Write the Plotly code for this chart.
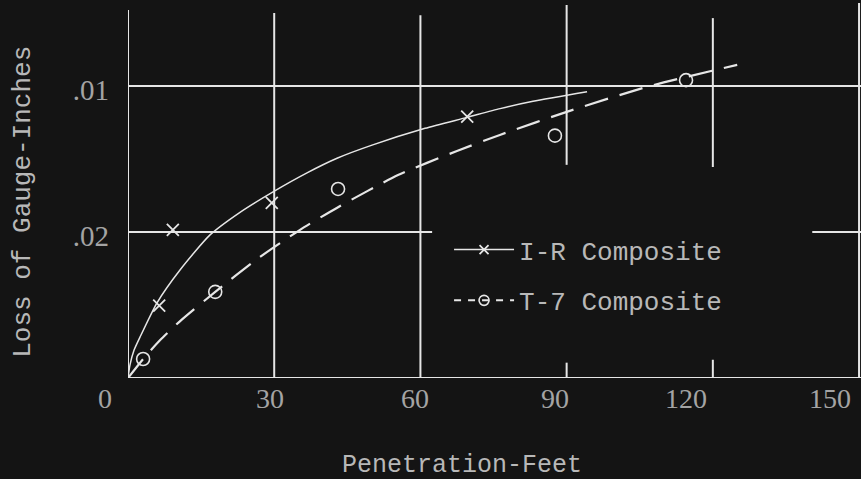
import plotly.graph_objects as go

# ---- data ----
# I-R Composite: observed points and drawn smooth curve
ir_pts_x = [6.4, 9.2, 29.5, 69.6]
ir_pts_y = [0.0099, 0.0203, 0.0240, 0.0358]
ir_curve_x = [0, 0.41, 1.23, 2.46, 5.95, 10.67, 16.83, 22.98, 29.76, 36.73, 42.89, 50.07, 60.95,
              69.57, 76.34, 83.11, 94.19]
ir_curve_y = [0, 0.0018, 0.0038, 0.0056, 0.0103, 0.0148, 0.0196, 0.0227, 0.0255, 0.0281, 0.0301,
              0.0319, 0.0342, 0.0357, 0.0369, 0.0379, 0.0392]

# T-7 Composite: observed points and drawn dashed curve
t7_pts_x = [3.1, 17.9, 43.1, 87.6, 114.5]
t7_pts_y = [0.0026, 0.0118, 0.0259, 0.0332, 0.0408]
t7_curve_x = [0, 3.1, 6.6, 10.7, 17.9, 26.5, 35.3, 43.1, 55.4, 67.5, 76.3, 91.1, 107.1, 125.0]
t7_curve_y = [0, 0.0026, 0.0052, 0.0078, 0.0118, 0.0163, 0.0203, 0.0234, 0.0278, 0.0311, 0.0333,
              0.0367, 0.0400, 0.0429]

x_ticks = [0, 30, 60, 90, 120, 150]
x_tick_text = ["0", "30", "60", "90", "120", "150"]
y_ticks = [0.02, 0.04]
y_tick_text = [".02", ".01"]

# hand-lettered label offsets (pixels) relative to the tick position
x_label_dx = [-23, -4, -5, -12, -27, -29]

BG = "#141414"
LINE = "#e6e6e6"
TXT = "#b8b8b8"
TICK = "#a4a4a4"
MONO = "Liberation Mono"
SERIF = "Liberation Serif"

fig = go.Figure()

# curves
fig.add_trace(go.Scatter(x=ir_curve_x, y=ir_curve_y, mode="lines",
                         line=dict(color=LINE, width=1.5, shape="spline", smoothing=0.6),
                         showlegend=False, hoverinfo="skip"))
fig.add_trace(go.Scatter(x=t7_curve_x, y=t7_curve_y, mode="lines",
                         line=dict(color=LINE, width=2.2, dash="24px,12px", shape="spline", smoothing=0.6),
                         showlegend=False, hoverinfo="skip"))
# points
fig.add_trace(go.Scatter(x=ir_pts_x, y=ir_pts_y, mode="markers",
                         marker=dict(symbol="x-thin-open", size=12, color=LINE, line=dict(color=LINE, width=1.8)),
                         showlegend=False))
fig.add_trace(go.Scatter(x=t7_pts_x, y=t7_pts_y, mode="markers",
                         marker=dict(symbol="circle-open", size=13, color=LINE, line=dict(color=LINE, width=1.6)),
                         showlegend=False))
# legend entries
fig.add_trace(go.Scatter(x=[None], y=[None], mode="lines+markers", name="I-R Composite", legendgroup="a",
                         line=dict(color=LINE, width=1.5),
                         marker=dict(symbol="x-thin-open", size=9, color=LINE, line=dict(color=LINE, width=1.8))))
fig.add_trace(go.Scatter(x=[None], y=[None], mode="lines+markers", name="T-7 Composite", legendgroup="b",
                         line=dict(color=LINE, width=2, dash="7px,7px"),
                         marker=dict(symbol="circle-open", size=10, color=LINE, line=dict(color=LINE, width=1.6))))

XMAX = 150.4
YMAX = 0.05137

# frame / grid segments
segs = [
    (0, 0, 0, 0.0504),            # left axis
    (0, 0, XMAX, 0),              # bottom axis
    (30, 0, 30, 0.0500),
    (60, 0, 60, 0.0497),
    (90, 0.0292, 90, 0.0511),
    (90, 0, 90, 0.0021),
    (120, 0.0289, 120, 0.0493),
    (120, 0, 120, 0.0025),
    (150, 0, 150, YMAX),
    (0, 0.04, XMAX, 0.04),
    (0, 0.02, 62.4, 0.02),
    (140.4, 0.02, XMAX, 0.02),
]
for x0, y0, x1, y1 in segs:
    fig.add_shape(type="line", x0=x0, y0=y0, x1=x1, y1=y1, xref="x", yref="y",
                  line=dict(color=LINE, width=2), layer="below")

fig.update_layout(
    width=861, height=479,
    paper_bgcolor=BG, plot_bgcolor=BG,
    margin=dict(l=128, r=0, t=3, b=101),
    font=dict(family=MONO, color=TXT),
    xaxis=dict(range=[0, XMAX], showgrid=False, zeroline=False, showline=False,
               showticklabels=False, ticks=""),
    yaxis=dict(range=[0, YMAX], showgrid=False, zeroline=False, showline=False,
               tickvals=y_ticks, ticktext=y_tick_text, ticks="", ticklabelstandoff=18,
               ticklabelshift=4, tickfont=dict(size=29, color=TICK, family=SERIF)),
    legend=dict(x=0.438, y=0.405, xanchor="left", yanchor="top", bgcolor="rgba(0,0,0,0)",
                font=dict(size=26, color=TXT, family=MONO), itemwidth=60,
                traceorder="grouped", tracegroupgap=14),
    showlegend=True,
)

# x tick labels (hand-lettered, slightly off their grid lines)
for xv, txt, dx in zip(x_ticks, x_tick_text, x_label_dx):
    fig.add_annotation(text=txt, x=xv, xref="x", y=-0.054, yref="paper", xshift=dx,
                       xanchor="center", yanchor="middle", showarrow=False,
                       font=dict(size=28, color=TICK, family=SERIF))

# axis titles
fig.add_annotation(text="Penetration-Feet", xref="paper", yref="paper", x=0.4557, y=-0.232,
                   xanchor="center", yanchor="middle", showarrow=False,
                   font=dict(size=25, color=TXT, family=MONO))
fig.add_annotation(text="Loss of Gauge-Inches", xref="paper", yref="paper", x=-0.1432, y=0.47,
                   xanchor="center", yanchor="middle", showarrow=False, textangle=-90,
                   font=dict(size=26, color=TXT, family=MONO))

fig.write_html("out.html", config={"displayModeBar": False},
               post_script="document.body.style.margin='0px';")
